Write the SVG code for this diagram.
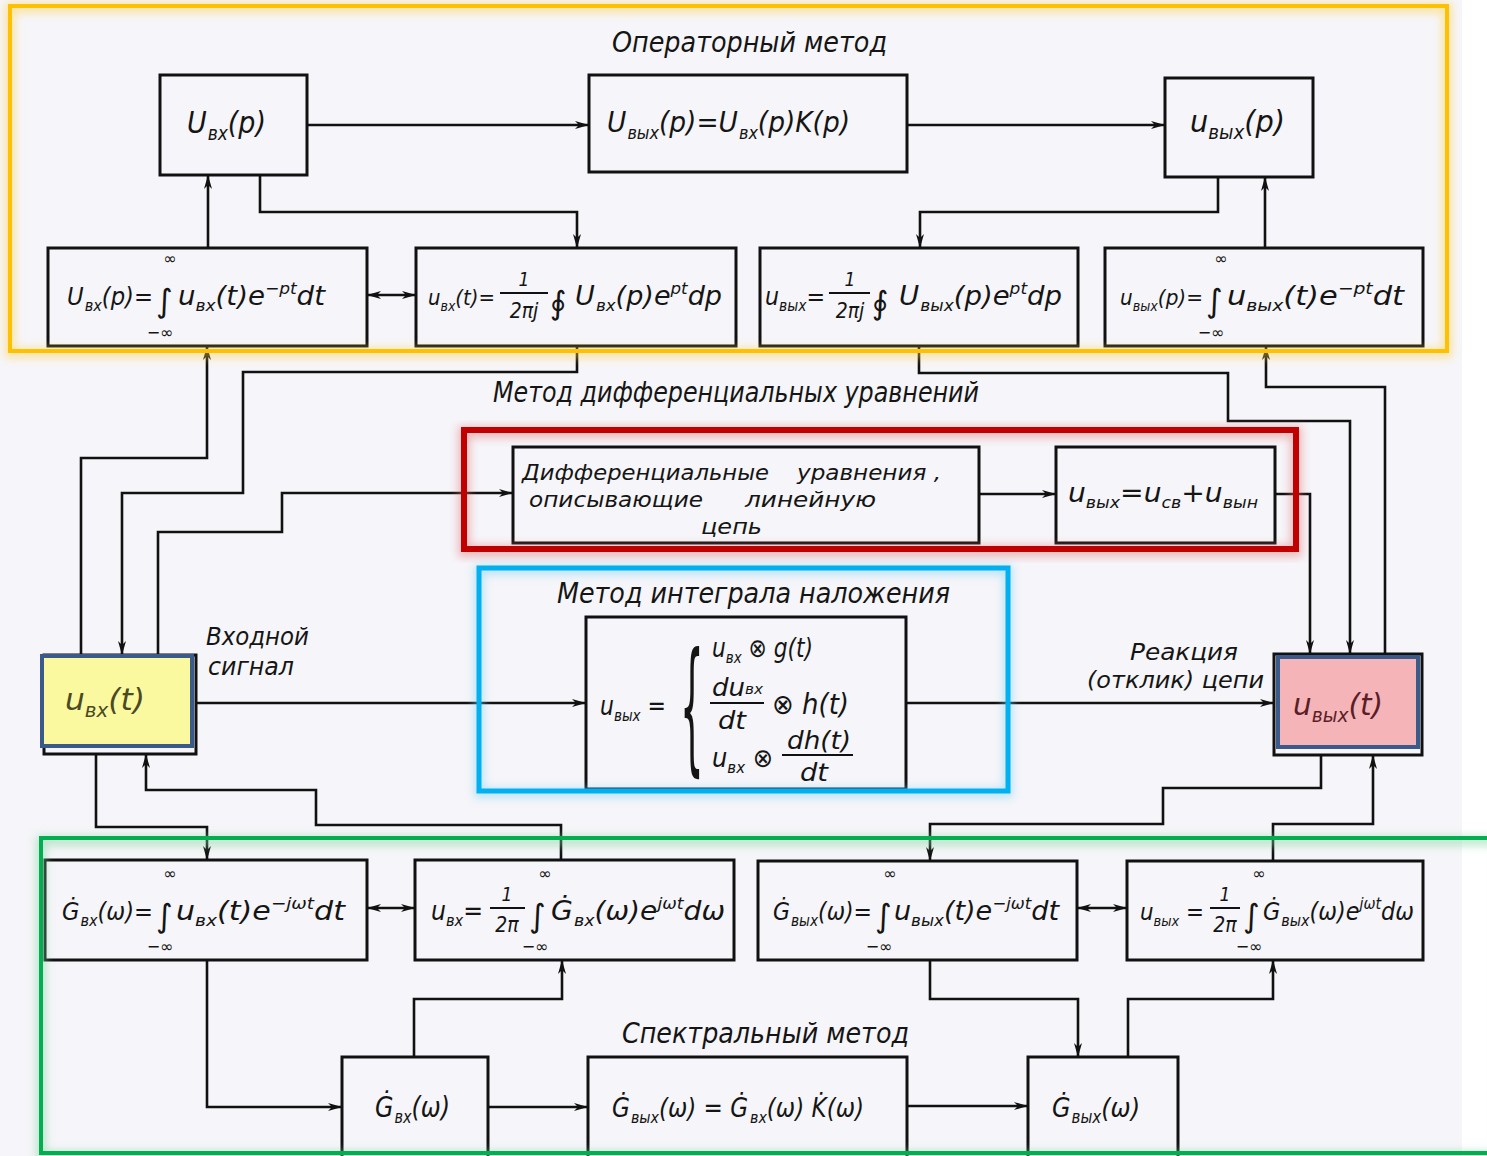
<svg xmlns="http://www.w3.org/2000/svg" width="1487" height="1156" viewBox="0 0 1487 1156">
<style>
.bg{fill:#f6f5f9}
.box{fill:none;stroke:#111;stroke-width:3}
.t{font-family:"DejaVu Sans Condensed","Liberation Sans Narrow","DejaVu Sans",sans-serif;font-style:italic;fill:#151515}
.m{font-family:"DejaVu Sans","Liberation Sans",sans-serif;font-style:normal;fill:#151515}
.f{font-size:26px}
.s{font-size:16px}
.lbl{font-size:28px}
.sm{font-size:16px}
.c{fill:none;stroke:#111;stroke-width:2.6}
.fl{stroke:#111;stroke-width:2}
.frame{fill:none}
</style>
<defs>
<marker id="ah" viewBox="0 0 14 8" refX="14" refY="4" markerWidth="14" markerHeight="8" orient="auto-start-reverse" markerUnits="userSpaceOnUse"><path d="M0,0 L14,4 L0,8 L4,4 z" fill="#111"/></marker>
<filter id="glow" x="-5%" y="-10%" width="110%" height="120%"><feGaussianBlur stdDeviation="4"/></filter>
</defs>
<rect class="bg" x="0" y="0" width="1487" height="1156"/>
<rect x="1462" y="0" width="25" height="1156" fill="#ffffff"/>

<g id="connectors">
<path class="c" d="M307,125 H589" marker-end="url(#ah)"/>
<path class="c" d="M907,125 H1165" marker-end="url(#ah)"/>
<path class="c" d="M260,175 V212 H577 V248" marker-end="url(#ah)"/>
<path class="c" d="M208,248 V175" marker-end="url(#ah)"/>
<path class="c" d="M367,295 H416" marker-start="url(#ah)" marker-end="url(#ah)"/>
<path class="c" d="M1218,177 V212 H920 V248" marker-end="url(#ah)"/>
<path class="c" d="M1265,248 V177" marker-end="url(#ah)"/>
<path class="c" d="M81,655 V458 H207 V346" marker-end="url(#ah)"/>
<path class="c" d="M577,346 V372 H243 V493 H122 V655" marker-end="url(#ah)"/>
<path class="c" d="M158,655 V532 H282 V493 H513" marker-end="url(#ah)"/>
<path class="c" d="M979,494 H1056" marker-end="url(#ah)"/>
<path class="c" d="M1275,494 H1310 V654" marker-end="url(#ah)"/>
<path class="c" d="M919,346 V373 H1228 V421 H1350 V654" marker-end="url(#ah)"/>
<path class="c" d="M1385,654 V387 H1266 V346" marker-end="url(#ah)"/>
<path class="c" d="M195,703 H586" marker-end="url(#ah)"/>
<path class="c" d="M906,703 H1274" marker-end="url(#ah)"/>
<path class="c" d="M96,754 V827 H207 V860" marker-end="url(#ah)"/>
<path class="c" d="M561,860 V825 H316 V790 H146 V754" marker-end="url(#ah)"/>
<path class="c" d="M367,908 H415" marker-start="url(#ah)" marker-end="url(#ah)"/>
<path class="c" d="M207,960 V1107 H342" marker-end="url(#ah)"/>
<path class="c" d="M414,1057 V999 H562 V960" marker-end="url(#ah)"/>
<path class="c" d="M488,1107 H588" marker-end="url(#ah)"/>
<path class="c" d="M907,1106 H1028" marker-end="url(#ah)"/>
<path class="c" d="M1321,755 V788 H1163 V824 H930 V861" marker-end="url(#ah)"/>
<path class="c" d="M1273,861 V824 H1373 V755" marker-end="url(#ah)"/>
<path class="c" d="M1077,908 H1127" marker-start="url(#ah)" marker-end="url(#ah)"/>
<path class="c" d="M930,960 V999 H1078 V1057" marker-end="url(#ah)"/>
<path class="c" d="M1128,1057 V999 H1273 V960" marker-end="url(#ah)"/>
</g>

<g id="title-operator"><text class="t lbl" x="612" y="52" textLength="275" lengthAdjust="spacingAndGlyphs">Операторный метод</text></g>
<g id="title-diff"><text class="t lbl" x="493" y="402" textLength="486" lengthAdjust="spacingAndGlyphs">Метод дифференциальных уравнений</text></g>
<g id="title-integral"><text class="t lbl" x="557" y="603" textLength="393" lengthAdjust="spacingAndGlyphs">Метод интеграла наложения</text></g>
<g id="title-spectral"><text class="t lbl" x="622" y="1043" textLength="287" lengthAdjust="spacingAndGlyphs">Спектральный метод</text></g>
<g id="label-input"><text class="t" font-size="25" x="206" y="645" textLength="103" lengthAdjust="spacingAndGlyphs">Входной</text><text class="t" font-size="25" x="208" y="675" textLength="86" lengthAdjust="spacingAndGlyphs">сигнал</text></g>
<g id="label-output"><text class="t" font-size="23" x="1130" y="660" textLength="108" lengthAdjust="spacingAndGlyphs">Реакция</text><text class="t" font-size="23" x="1087" y="688" textLength="177" lengthAdjust="spacingAndGlyphs">(отклик) цепи</text></g>

<g id="n-Uvx-p">
<rect class="box" x="160" y="75" width="147" height="100"/>
<text class="t" font-size="30" x="187" y="133" textLength="79" lengthAdjust="spacingAndGlyphs">U<tspan font-size="19" dy="7" dx="1">вх</tspan><tspan dy="-7">(p)</tspan></text>
</g>
<g id="n-Uvyx-p-eq">
<rect class="box" x="589" y="75" width="318" height="97"/>
<text class="t" font-size="28" x="607" y="132" textLength="243" lengthAdjust="spacingAndGlyphs">U<tspan font-size="17" dy="7" dx="1">вых</tspan><tspan dy="-7">(p)=U</tspan><tspan font-size="17" dy="7" dx="1">вх</tspan><tspan dy="-7">(p)K(p)</tspan></text>
</g>
<g id="n-uvyx-p">
<rect class="box" x="1165" y="78" width="148" height="99"/>
<text class="t" font-size="30" x="1190" y="132" textLength="95" lengthAdjust="spacingAndGlyphs">u<tspan font-size="19" dy="7">вых</tspan><tspan dy="-7">(p)</tspan></text>
</g>

<g id="n-laplace-in">
<rect class="box" x="48" y="248" width="319" height="98"/>
<text class="t" font-size="25" x="67" y="305" textLength="86" lengthAdjust="spacingAndGlyphs">U<tspan font-size="16" dy="6" dx="1">вх</tspan><tspan dy="-6">(p)=</tspan></text>
<text class="m" x="156" y="312" font-size="32">∫</text>
<text class="m sm" x="170" y="264" text-anchor="middle">∞</text>
<text class="m sm" x="160" y="338" text-anchor="middle">−∞</text>
<text class="t f" x="178" y="305" textLength="147" lengthAdjust="spacingAndGlyphs">u<tspan class="s" dy="6">вх</tspan><tspan dy="-6">(t)e</tspan><tspan class="s" dy="-11">−pt</tspan><tspan dy="11">dt</tspan></text>
</g>
<g id="n-inv-laplace-in">
<rect class="box" x="416" y="248" width="320" height="98"/>
<text class="t" font-size="22" x="428" y="305" textLength="67" lengthAdjust="spacingAndGlyphs">u<tspan font-size="14" dy="6">вх</tspan><tspan dy="-6">(t)=</tspan></text>
<text class="t" font-size="19" x="524" y="286" text-anchor="middle">1</text>
<line class="fl" x1="500" y1="293" x2="548" y2="293"/>
<text class="t" x="524" y="318" font-size="21" text-anchor="middle">2πj</text>
<text class="m" x="550" y="314" font-size="32">∮</text>
<text class="t f" x="575" y="305" textLength="147" lengthAdjust="spacingAndGlyphs">U<tspan class="s" dy="6" dx="1">вх</tspan><tspan dy="-6">(p)e</tspan><tspan class="s" dy="-11">pt</tspan><tspan dy="11">dp</tspan></text>
</g>
<g id="n-inv-laplace-out">
<rect class="box" x="760" y="248" width="318" height="98"/>
<text class="t" font-size="24" x="765" y="305" textLength="60" lengthAdjust="spacingAndGlyphs">u<tspan font-size="15" dy="6">вых</tspan><tspan dy="-6">=</tspan></text>
<text class="t" font-size="19" x="850" y="286" text-anchor="middle">1</text>
<line class="fl" x1="829" y1="293" x2="870" y2="293"/>
<text class="t" x="850" y="318" font-size="21" text-anchor="middle">2πj</text>
<text class="m" x="872" y="314" font-size="32">∮</text>
<text class="t f" x="899" y="305" textLength="163" lengthAdjust="spacingAndGlyphs">U<tspan class="s" dy="6" dx="1">вых</tspan><tspan dy="-6">(p)e</tspan><tspan class="s" dy="-11">pt</tspan><tspan dy="11">dp</tspan></text>
</g>
<g id="n-laplace-out">
<rect class="box" x="1105" y="248" width="318" height="98"/>
<text class="t" font-size="22" x="1120" y="305" textLength="83" lengthAdjust="spacingAndGlyphs">u<tspan font-size="14" dy="6">вых</tspan><tspan dy="-6">(p)=</tspan></text>
<text class="m" x="1206" y="312" font-size="32">∫</text>
<text class="m sm" x="1221" y="264" text-anchor="middle">∞</text>
<text class="m sm" x="1211" y="338" text-anchor="middle">−∞</text>
<text class="t f" x="1227" y="305" textLength="177" lengthAdjust="spacingAndGlyphs">u<tspan class="s" dy="6">вых</tspan><tspan dy="-6">(t)e</tspan><tspan class="s" dy="-11">−pt</tspan><tspan dy="11">dt</tspan></text>
</g>

<g id="n-diff-eq">
<rect class="box" x="513" y="447" width="466" height="96"/>
<text class="t" font-size="22" x="522" y="480" textLength="247" lengthAdjust="spacingAndGlyphs">Дифференциальные</text>
<text class="t" font-size="22" x="797" y="480" textLength="144" lengthAdjust="spacingAndGlyphs">уравнения ,</text>
<text class="t" font-size="22" x="529" y="507" textLength="174" lengthAdjust="spacingAndGlyphs">описывающие</text>
<text class="t" font-size="22" x="745" y="507" textLength="131" lengthAdjust="spacingAndGlyphs">линейную</text>
<text class="t" font-size="22" x="701" y="534" textLength="61" lengthAdjust="spacingAndGlyphs">цепь</text>
</g>
<g id="n-sum">
<rect class="box" x="1056" y="447" width="219" height="96"/>
<text class="t f" x="1068" y="502" textLength="190" lengthAdjust="spacingAndGlyphs">u<tspan class="s" dy="6">вых</tspan><tspan dy="-6">=u</tspan><tspan class="s" dy="6">св</tspan><tspan dy="-6">+u</tspan><tspan class="s" dy="6">вын</tspan></text>
</g>

<g id="n-superposition">
<rect class="box" x="586" y="617" width="320" height="172"/>
<text class="t f" x="600" y="715" textLength="66" lengthAdjust="spacingAndGlyphs">u<tspan class="s" dy="6">вых</tspan><tspan dy="-6"> =</tspan></text>
<text class="m" x="0" y="0" font-size="44" font-family="Liberation Serif, serif" transform="translate(680,756) scale(0.85,3.3)">{</text>
<text class="t f" x="712" y="657" textLength="101" lengthAdjust="spacingAndGlyphs">u<tspan class="s" dy="6">вх</tspan><tspan dy="-6"> ⊗ g(t)</tspan></text>
<text class="t" x="712" y="696" font-size="24" textLength="51" lengthAdjust="spacingAndGlyphs">du<tspan font-size="14" dy="-2">вх</tspan></text>
<line class="fl" x1="710" y1="703" x2="764" y2="703"/>
<text class="t" x="718" y="729" font-size="24" textLength="28" lengthAdjust="spacingAndGlyphs">dt</text>
<text class="t" font-size="28" x="772" y="714" textLength="77" lengthAdjust="spacingAndGlyphs">⊗ h(t)</text>
<text class="t f" x="712" y="767" textLength="61" lengthAdjust="spacingAndGlyphs">u<tspan class="s" dy="6">вх</tspan><tspan dy="-6"> ⊗</tspan></text>
<text class="t" x="787" y="749" font-size="24" textLength="64" lengthAdjust="spacingAndGlyphs">dh(t)</text>
<line class="fl" x1="782" y1="755" x2="853" y2="755"/>
<text class="t" x="800" y="781" font-size="24" textLength="28" lengthAdjust="spacingAndGlyphs">dt</text>
</g>

<g id="n-uvx-t">
<rect class="box" x="44" y="655" width="152" height="99"/>
<rect x="42" y="656" width="150" height="90" fill="#fbf9a0" stroke="#3a5a8a" stroke-width="4"/>
<text class="t" font-size="30" x="65" y="710" textLength="80" lengthAdjust="spacingAndGlyphs" style="fill:#4a4a24">u<tspan font-size="19" dy="7">вх</tspan><tspan dy="-7">(t)</tspan></text>
</g>
<g id="n-uvyx-t">
<rect class="box" x="1274" y="654" width="148" height="101"/>
<rect x="1278" y="657" width="140" height="90" fill="#f5b4b8" stroke="#3a5a8a" stroke-width="4"/>
<text class="t" font-size="30" x="1293" y="715" textLength="90" lengthAdjust="spacingAndGlyphs" style="fill:#5a1e26">u<tspan font-size="19" dy="7">вых</tspan><tspan dy="-7">(t)</tspan></text>
</g>

<g id="n-fourier-in">
<rect class="box" x="45" y="860" width="322" height="100"/>
<text class="t" font-size="25" x="62" y="920" textLength="91" lengthAdjust="spacingAndGlyphs">Ġ<tspan font-size="16" dy="6" dx="1">вх</tspan><tspan dy="-6">(ω)=</tspan></text>
<text class="m" x="156" y="927" font-size="32">∫</text>
<text class="m sm" x="170" y="879" text-anchor="middle">∞</text>
<text class="m sm" x="160" y="952" text-anchor="middle">−∞</text>
<text class="t f" x="176" y="920" textLength="169" lengthAdjust="spacingAndGlyphs">u<tspan class="s" dy="6">вх</tspan><tspan dy="-6">(t)e</tspan><tspan class="s" dy="-11">−jωt</tspan><tspan dy="11">dt</tspan></text>
</g>
<g id="n-inv-fourier-in">
<rect class="box" x="415" y="860" width="319" height="100"/>
<text class="t f" x="431" y="920" textLength="52" lengthAdjust="spacingAndGlyphs">u<tspan class="s" dy="6">вх</tspan><tspan dy="-6">=</tspan></text>
<text class="t" font-size="19" x="507" y="901" text-anchor="middle">1</text>
<line class="fl" x1="490" y1="908" x2="525" y2="908"/>
<text class="t" x="507" y="932" font-size="21" text-anchor="middle">2π</text>
<text class="m" x="529" y="927" font-size="32">∫</text>
<text class="m sm" x="545" y="879" text-anchor="middle">∞</text>
<text class="m sm" x="535" y="952" text-anchor="middle">−∞</text>
<text class="t f" x="551" y="920" textLength="174" lengthAdjust="spacingAndGlyphs">Ġ<tspan class="s" dy="6" dx="1">вх</tspan><tspan dy="-6">(ω)e</tspan><tspan class="s" dy="-11">jωt</tspan><tspan dy="11">dω</tspan></text>
</g>
<g id="n-fourier-out">
<rect class="box" x="758" y="861" width="319" height="99"/>
<text class="t" font-size="24" x="773" y="920" textLength="99" lengthAdjust="spacingAndGlyphs">Ġ<tspan font-size="15" dy="6" dx="1">вых</tspan><tspan dy="-6">(ω)=</tspan></text>
<text class="m" x="875" y="927" font-size="32">∫</text>
<text class="m sm" x="890" y="879" text-anchor="middle">∞</text>
<text class="m sm" x="879" y="952" text-anchor="middle">−∞</text>
<text class="t f" x="894" y="920" textLength="165" lengthAdjust="spacingAndGlyphs">u<tspan class="s" dy="6">вых</tspan><tspan dy="-6">(t)e</tspan><tspan class="s" dy="-11">−jωt</tspan><tspan dy="11">dt</tspan></text>
</g>
<g id="n-inv-fourier-out">
<rect class="box" x="1127" y="861" width="296" height="99"/>
<text class="t" font-size="23" x="1140" y="920" textLength="64" lengthAdjust="spacingAndGlyphs">u<tspan font-size="14" dy="6">вых</tspan><tspan dy="-6"> =</tspan></text>
<text class="t" font-size="19" x="1225" y="901" text-anchor="middle">1</text>
<line class="fl" x1="1210" y1="908" x2="1240" y2="908"/>
<text class="t" x="1225" y="932" font-size="21" text-anchor="middle">2π</text>
<text class="m" x="1243" y="927" font-size="32">∫</text>
<text class="m sm" x="1259" y="879" text-anchor="middle">∞</text>
<text class="m sm" x="1249" y="952" text-anchor="middle">−∞</text>
<text class="t" font-size="25" x="1263" y="920" textLength="151" lengthAdjust="spacingAndGlyphs">Ġ<tspan class="s" dy="6" dx="1">вых</tspan><tspan dy="-6">(ω)e</tspan><tspan class="s" dy="-11">jωt</tspan><tspan dy="11">dω</tspan></text>
</g>

<g id="n-Gvx">
<rect class="box" x="342" y="1057" width="146" height="110"/>
<text class="t" font-size="28" x="375" y="1117" textLength="75" lengthAdjust="spacingAndGlyphs">Ġ<tspan font-size="17" dy="6" dx="1">вх</tspan><tspan dy="-6">(ω)</tspan></text>
</g>
<g id="n-product">
<rect class="box" x="588" y="1057" width="319" height="110"/>
<text class="t f" x="612" y="1117" textLength="252" lengthAdjust="spacingAndGlyphs">Ġ<tspan class="s" dy="6" dx="1">вых</tspan><tspan dy="-6">(ω) = Ġ</tspan><tspan class="s" dy="6" dx="2">вх</tspan><tspan dy="-6">(ω) K̇(ω)</tspan></text>
</g>
<g id="n-Gvyx">
<rect class="box" x="1028" y="1057" width="150" height="110"/>
<text class="t" font-size="27" x="1052" y="1117" textLength="88" lengthAdjust="spacingAndGlyphs">Ġ<tspan font-size="17" dy="6" dx="1">вых</tspan><tspan dy="-6">(ω)</tspan></text>
</g>

<g id="frames">
<rect x="10" y="8" width="1437" height="345" fill="none" stroke="#ffd24a" stroke-width="10" opacity="0.5" filter="url(#glow)"/>
<rect class="frame" x="10" y="6" width="1437" height="345" stroke="#ffc000" stroke-width="4"/>
<rect x="464" y="432" width="832" height="119" fill="none" stroke="#e07070" stroke-width="12" opacity="0.45" filter="url(#glow)"/>
<rect class="frame" x="464" y="430" width="832" height="119" stroke="#c00000" stroke-width="6"/>
<rect x="479" y="570" width="529" height="223" fill="none" stroke="#7fd4f5" stroke-width="10" opacity="0.5" filter="url(#glow)"/>
<rect class="frame" x="479" y="568" width="529" height="223" stroke="#00b0f0" stroke-width="5"/>
<rect x="41" y="841" width="1460" height="315" fill="none" stroke="#7fd49f" stroke-width="10" opacity="0.5" filter="url(#glow)"/>
<rect class="frame" x="41" y="838" width="1460" height="315" stroke="#00b050" stroke-width="4"/>
</g>
</svg>
